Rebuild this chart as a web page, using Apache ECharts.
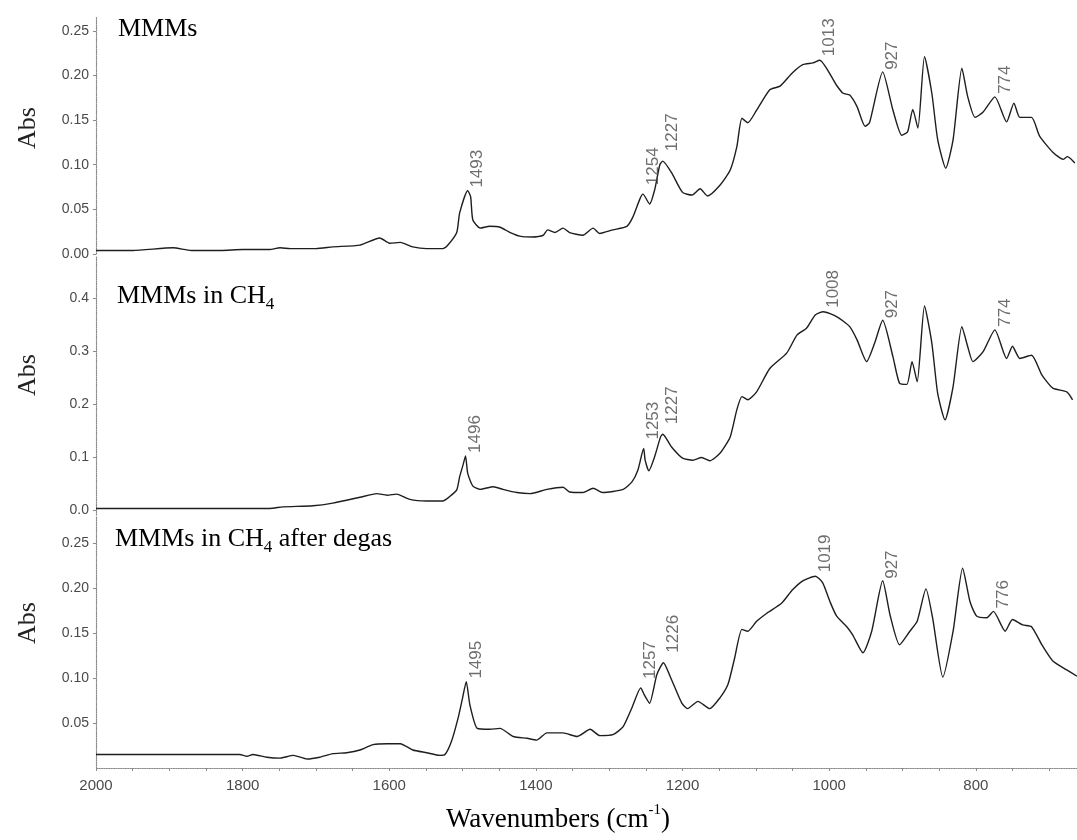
<!DOCTYPE html>
<html>
<head>
<meta charset="utf-8">
<title>FTIR spectra of MMMs</title>
<script src="https://cdn.jsdelivr.net/npm/echarts@6/dist/echarts.min.js"></script>
<style>
  html, body { margin: 0; padding: 0; background: #fff; }
  #chart { width: 1077px; height: 840px; }
</style>
</head>
<body>
<div id="chart"></div>
<script>
// MMMs
const mmmsWn = [2000, 1950, 1895, 1870, 1830, 1800, 1763, 1749, 1735, 1700, 1677, 1640, 1613, 1599, 1585, 1568, 1549, 1527, 1520, 1508, 1504, 1493, 1489, 1486, 1476, 1463, 1449, 1435, 1422, 1404, 1390, 1384, 1374, 1363, 1354, 1336, 1322, 1313, 1295, 1276, 1268, 1258, 1254, 1245, 1238, 1231, 1227, 1215, 1200, 1187, 1176, 1166, 1149, 1135, 1126, 1119, 1111, 1099, 1081, 1067, 1050, 1036, 1022, 1013, 990, 981, 972, 962, 951, 945, 927, 913, 901, 893, 886, 879, 870, 860, 852, 841, 831, 819, 811, 801, 790, 774, 758, 748, 740, 724, 713, 695, 681, 675, 665];
const mmmsAbs = [0.004, 0.004, 0.007, 0.004, 0.004, 0.005, 0.005, 0.007, 0.006, 0.006, 0.008, 0.010, 0.018, 0.012, 0.013, 0.008, 0.006, 0.006, 0.010, 0.024, 0.046, 0.071, 0.064, 0.038, 0.029, 0.031, 0.030, 0.024, 0.020, 0.019, 0.021, 0.027, 0.024, 0.029, 0.024, 0.021, 0.029, 0.023, 0.027, 0.031, 0.041, 0.062, 0.067, 0.056, 0.072, 0.100, 0.104, 0.091, 0.069, 0.066, 0.073, 0.065, 0.077, 0.094, 0.120, 0.152, 0.147, 0.161, 0.184, 0.188, 0.203, 0.212, 0.214, 0.217, 0.189, 0.180, 0.178, 0.165, 0.143, 0.147, 0.204, 0.161, 0.133, 0.137, 0.162, 0.141, 0.221, 0.180, 0.128, 0.096, 0.128, 0.208, 0.176, 0.153, 0.159, 0.176, 0.148, 0.169, 0.153, 0.153, 0.132, 0.114, 0.106, 0.109, 0.102];
const mmmsPeaks = [1493, 1254, 1227, 1013, 927, 774];

// MMMs in CH4
const ch4Wn = [2000, 1900, 1800, 1763, 1745, 1704, 1677, 1640, 1617, 1603, 1590, 1572, 1549, 1527, 1518, 1508, 1504, 1499, 1496, 1493, 1486, 1476, 1458, 1445, 1426, 1408, 1385, 1363, 1354, 1336, 1322, 1309, 1281, 1269, 1261, 1253, 1251, 1246, 1238, 1230, 1227, 1215, 1200, 1186, 1174, 1163, 1149, 1135, 1126, 1119, 1111, 1099, 1081, 1058, 1044, 1031, 1019, 1008, 990, 972, 962, 949, 938, 927, 913, 904, 894, 887, 880, 870, 860, 852, 842, 831, 819, 811, 804, 790, 774, 758, 750, 740, 724, 710, 695, 676, 668];
const ch4Abs = [0.003, 0.003, 0.003, 0.003, 0.006, 0.008, 0.013, 0.024, 0.031, 0.028, 0.030, 0.020, 0.017, 0.017, 0.025, 0.038, 0.063, 0.087, 0.102, 0.069, 0.045, 0.039, 0.044, 0.039, 0.033, 0.031, 0.039, 0.043, 0.034, 0.033, 0.041, 0.033, 0.039, 0.053, 0.075, 0.116, 0.094, 0.074, 0.101, 0.138, 0.143, 0.119, 0.098, 0.094, 0.099, 0.093, 0.107, 0.138, 0.189, 0.214, 0.208, 0.223, 0.267, 0.296, 0.330, 0.343, 0.368, 0.374, 0.365, 0.346, 0.321, 0.280, 0.315, 0.358, 0.289, 0.239, 0.237, 0.280, 0.242, 0.385, 0.315, 0.220, 0.170, 0.233, 0.346, 0.308, 0.280, 0.299, 0.340, 0.286, 0.309, 0.286, 0.292, 0.255, 0.230, 0.223, 0.208];
const ch4Peaks = [1496, 1253, 1227, 1008, 927, 774];

// MMMs in CH4 after degas
const degasWn = [2000, 1900, 1804, 1794, 1786, 1767, 1749, 1731, 1712, 1695, 1677, 1658, 1640, 1622, 1603, 1585, 1568, 1549, 1531, 1524, 1515, 1506, 1500, 1495, 1490, 1480, 1463, 1449, 1431, 1412, 1399, 1385, 1363, 1344, 1326, 1313, 1295, 1281, 1269, 1257, 1252, 1245, 1235, 1226, 1217, 1201, 1193, 1179, 1163, 1149, 1138, 1129, 1119, 1111, 1099, 1085, 1065, 1050, 1036, 1019, 1009, 999, 990, 976, 968, 954, 942, 927, 917, 904, 890, 880, 868, 859, 845, 831, 818, 808, 799, 785, 776, 760, 750, 736, 724, 710, 695, 676, 662];
const degasAbs = [0.015, 0.015, 0.015, 0.013, 0.015, 0.012, 0.011, 0.014, 0.010, 0.012, 0.016, 0.017, 0.020, 0.026, 0.027, 0.027, 0.020, 0.017, 0.014, 0.015, 0.030, 0.056, 0.078, 0.096, 0.070, 0.044, 0.043, 0.044, 0.035, 0.033, 0.031, 0.039, 0.039, 0.035, 0.043, 0.036, 0.037, 0.046, 0.067, 0.089, 0.081, 0.072, 0.104, 0.117, 0.102, 0.072, 0.066, 0.074, 0.066, 0.078, 0.093, 0.122, 0.154, 0.152, 0.163, 0.172, 0.183, 0.198, 0.208, 0.213, 0.206, 0.185, 0.169, 0.157, 0.148, 0.128, 0.152, 0.208, 0.170, 0.137, 0.152, 0.163, 0.199, 0.167, 0.101, 0.152, 0.222, 0.185, 0.169, 0.167, 0.174, 0.152, 0.165, 0.159, 0.157, 0.137, 0.119, 0.109, 0.102];
const degasPeaks = [1495, 1257, 1226, 1019, 927, 776];

// tick labels
const xTicks = [2000, 1800, 1600, 1400, 1200, 1000, 800];
const yTicksTop = [0, 0.05, 0.10, 0.15, 0.20, 0.25];
const yTicksMid = [0, 0.1, 0.2, 0.3, 0.4];
const yTicksBottom = [0.05, 0.10, 0.15, 0.20, 0.25];

const xMinorTicks = [];
for (let w = 700; w <= 2000; w += 50) xMinorTicks.push(w);

const SERIF = "'Liberation Serif', 'Times New Roman', serif";
const SANS = "'Liberation Sans', Arial, sans-serif";
const LINE = '#1e1e1e';
const AXIS = '#8a8a8a';
const TXT = '#4a4a4a';

// how far above the peak each rotated label starts (px)
const peakLift = [3, 9, 10, 4, 2, 3];

function pairs(wn, ab) {
  return wn.map((w, i) => [w, ab[i]]);
}

function peakSeries(idx, wn, ab, peaks) {
  return {
    type: 'scatter',
    xAxisIndex: idx,
    yAxisIndex: idx,
    symbolSize: 1,
    silent: true,
    z: 5,
    itemStyle: { color: 'rgba(0,0,0,0)' },
    data: peaks.map((w, k) => ({
      value: [w, ab[wn.indexOf(w)]],
      label: { offset: [peakLift[k], 10] }
    })),
    label: {
      show: true,
      position: 'inside',
      rotate: 90,
      align: 'left',
      verticalAlign: 'middle',
      fontFamily: SANS,
      fontSize: 17,
      color: TXT,
      formatter: p => String(p.value[0])
    }
  };
}

function lineSeries(idx, name, wn, ab) {
  return {
    name: name,
    type: 'line',
    xAxisIndex: idx,
    yAxisIndex: idx,
    showSymbol: false,
    symbol: 'none',
    smooth: 0.2,
    lineStyle: { color: LINE, width: 1.4 },
    data: pairs(wn, ab)
  };
}

function xAxis(idx, show) {
  return {
    gridIndex: idx,
    type: 'value',
    inverse: true,
    min: 662,
    max: 2000,
    show: show,
    axisLine: { show: true, onZero: false, lineStyle: { color: AXIS, type: 'dotted', width: 1.2 } },
    axisTick: { show: true, customValues: xMinorTicks, length: 3, lineStyle: { color: AXIS } },
    axisLabel: {
      customValues: xTicks, margin: 10, fontFamily: SANS, fontSize: 15, color: TXT,
      formatter: v => String(v)
    },
    splitLine: { show: false }
  };
}

function yAxis(idx, min, max, ticks, digits) {
  return {
    gridIndex: idx,
    type: 'value',
    min: min,
    max: max,
    axisLine: { show: true, onZero: false, lineStyle: { color: AXIS, type: 'dotted', width: 1.2 } },
    axisTick: { show: true, customValues: ticks, length: 3, lineStyle: { color: AXIS } },
    axisLabel: {
      customValues: ticks, margin: 7, fontFamily: SANS, fontSize: 14, color: TXT,
      formatter: v => v.toFixed(digits)
    },
    splitLine: { show: false }
  };
}

const titleRich = {
  t: { fontFamily: SERIF, fontSize: 26, color: '#111', lineHeight: 30, verticalAlign: 'top' },
  s: { fontFamily: SERIF, fontSize: 17, color: '#111', lineHeight: 14, verticalAlign: 'bottom' }
};

function panelTitle(x, y, text) {
  return {
    type: 'text', x: x, y: y, z: 10,
    style: { text: text, rich: titleRich, align: 'left', verticalAlign: 'top' }
  };
}

function absLabel(y) {
  return {
    type: 'text', x: 28, y: y, rotation: Math.PI / 2, z: 10,
    style: {
      text: 'Abs', fontFamily: SERIF, fontSize: 26, fill: '#222',
      align: 'center', verticalAlign: 'middle'
    }
  };
}

const chart = echarts.init(document.getElementById('chart'), null, { renderer: 'canvas' });

chart.setOption({
  backgroundColor: '#fff',
  animation: false,
  grid: [
    { left: 96, right: 0, top: 17, height: 237, outerBoundsMode: 'none' },
    { left: 96, right: 0, top: 256, height: 259, outerBoundsMode: 'none' },
    { left: 96, right: 0, top: 517, height: 251, outerBoundsMode: 'none' }
  ],
  xAxis: [xAxis(0, false), xAxis(1, false), xAxis(2, true)],
  yAxis: [
    yAxis(0, 0, 0.2654, yTicksTop, 2),
    yAxis(1, -0.0094, 0.4793, yTicksMid, 1),
    yAxis(2, 0, 0.2789, yTicksBottom, 2)
  ],
  graphic: [
    panelTitle(118, 16, '{t|MMMs}'),
    panelTitle(117, 283, '{t|MMMs in CH}{s|4}'),
    panelTitle(115, 526, '{t|MMMs in CH}{s|4}{t| after degas}'),
    absLabel(128),
    absLabel(375),
    absLabel(623),
    {
      type: 'text', x: 558, y: 818, z: 10,
      style: {
        text: '{a|Wavenumbers (cm}{b|-1}{a|)}',
        align: 'center', verticalAlign: 'middle',
        rich: {
          a: { fontFamily: SERIF, fontSize: 27, color: '#111', lineHeight: 30, verticalAlign: 'bottom' },
          b: { fontFamily: SERIF, fontSize: 15, color: '#111', lineHeight: 20, verticalAlign: 'top' }
        }
      }
    }
  ],
  series: [
    lineSeries(0, 'MMMs', mmmsWn, mmmsAbs),
    lineSeries(1, 'MMMs in CH4', ch4Wn, ch4Abs),
    lineSeries(2, 'MMMs in CH4 after degas', degasWn, degasAbs),
    peakSeries(0, mmmsWn, mmmsAbs, mmmsPeaks),
    peakSeries(1, ch4Wn, ch4Abs, ch4Peaks),
    peakSeries(2, degasWn, degasAbs, degasPeaks)
  ]
});
</script>
</body>
</html>
